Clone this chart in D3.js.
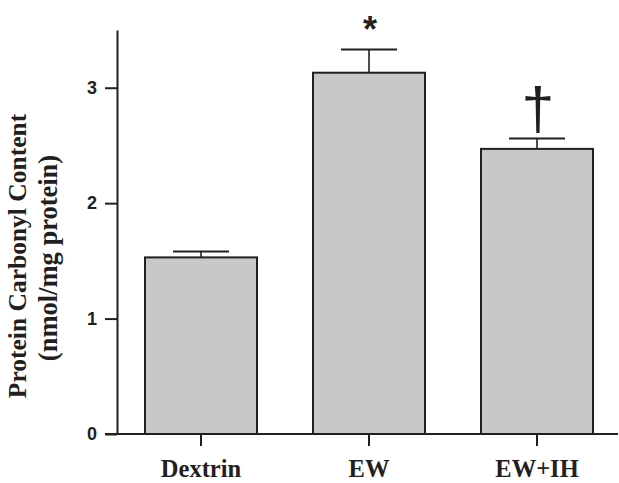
<!DOCTYPE html>
<html>
<head>
<meta charset="utf-8">
<script src="https://cdn.jsdelivr.net/npm/d3@7"></script>
<style>
  body { margin: 0; background: #fff; }
  svg { display: block; }
</style>
</head>
<body>
<svg id="chart"></svg>
<script>
"use strict";

// data
var groups = ["Dextrin", "EW", "EW+IH"];
var means = [1.53, 3.13, 2.47];
var sems = [0.05, 0.20, 0.09];
var marks = ["", "*", "\u2020"];
var yTicks = [0, 1, 2, 3];

(function () {
    var width = 619, height = 483;
    var margin = { top: 30, right: 1, bottom: 49, left: 117 };
    var chartWidth = 504, chartHeight = 404;
    var ink = "#231f20";

    var svg = d3.select("#chart")
        .attr("width", width)
        .attr("height", height);

    var g = svg.append("g")
        .attr("transform", "translate(" + margin.left + "," + margin.top + ")");

    var xScale = d3.scaleBand()
        .domain(groups)
        .range([0, chartWidth])
        .paddingInner(1 / 3)
        .paddingOuter(1 / 6);

    var yScale = d3.scaleLinear()
        .domain([0, 3.5])
        .range([chartHeight, 0]);

    // bars
    g.selectAll("rect.bar")
        .data(groups)
        .enter()
        .append("rect")
        .attr("class", "bar")
        .attr("x", function (d) { return xScale(d); })
        .attr("y", function (d, i) { return yScale(means[i]); })
        .attr("width", xScale.bandwidth())
        .attr("height", function (d, i) { return chartHeight - yScale(means[i]); })
        .attr("fill", "#c7c8ca")
        .attr("stroke", ink)
        .attr("stroke-width", 2);

    // error bars (upper only)
    var capHalf = xScale.bandwidth() / 4;
    groups.forEach(function (d, i) {
        var cx = xScale(d) + xScale.bandwidth() / 2;
        g.append("line")
            .attr("x1", cx).attr("x2", cx)
            .attr("y1", yScale(means[i])).attr("y2", yScale(means[i] + sems[i]))
            .attr("stroke", ink).attr("stroke-width", 1.6);
        g.append("line")
            .attr("x1", cx - capHalf).attr("x2", cx + capHalf)
            .attr("y1", yScale(means[i] + sems[i])).attr("y2", yScale(means[i] + sems[i]))
            .attr("stroke", ink).attr("stroke-width", 2);
        if (marks[i] === "*") {
            g.append("text")
                .attr("x", cx + 1)
                .attr("y", yScale(means[i] + sems[i]) - 8)
                .attr("text-anchor", "middle")
                .style("font-family", "'Liberation Sans', Arial, sans-serif")
                .style("font-weight", "bold")
                .style("font-size", "36px")
                .attr("fill", ink)
                .text(marks[i]);
        } else if (marks[i]) {
            g.append("text")
                .attr("x", cx + 1)
                .attr("y", yScale(means[i] + sems[i]) - 10)
                .attr("text-anchor", "middle")
                .style("font-family", "'Liberation Sans', Arial, sans-serif")
                .style("font-size", "59px")
                .attr("fill", ink)
                .text(marks[i]);
        }
    });

    // y axis
    var yAxis = d3.axisLeft(yScale)
        .tickValues(yTicks)
        .tickFormat(d3.format("d"))
        .tickSize(12)
        .tickSizeOuter(0)
        .tickPadding(8);

    var yG = g.append("g").call(yAxis);
    yG.select(".domain").attr("stroke", ink).attr("stroke-width", 2);
    yG.selectAll(".tick line").attr("stroke", ink).attr("stroke-width", 2);
    yG.selectAll(".tick text")
        .style("font-family", "'Liberation Sans', Arial, sans-serif")
        .style("font-weight", "bold")
        .style("font-size", "18px")
        .attr("fill", ink);

    // x axis
    var xAxis = d3.axisBottom(xScale)
        .tickSize(12)
        .tickSizeOuter(0)
        .tickPadding(14);

    var xG = g.append("g")
        .attr("transform", "translate(0," + chartHeight + ")")
        .call(xAxis);
    xG.select(".domain").remove();
    xG.append("line")
        .attr("x1", -12).attr("x2", chartWidth - 3)
        .attr("y1", 0).attr("y2", 0)
        .attr("stroke", ink).attr("stroke-width", 2);
    xG.selectAll(".tick line").attr("stroke", ink).attr("stroke-width", 2);
    xG.selectAll(".tick text")
        .style("font-family", "'Liberation Serif', 'Times New Roman', serif")
        .style("font-weight", "bold")
        .style("font-size", "24.5px")
        .attr("fill", ink);

    // y label
    var yLabel = svg.append("text")
        .attr("transform", "rotate(-90)")
        .attr("text-anchor", "middle")
        .style("font-family", "'Liberation Serif', 'Times New Roman', serif")
        .style("font-weight", "bold")
        .attr("fill", ink);
    yLabel.append("tspan")
        .attr("x", -256).attr("y", 26)
        .style("font-size", "25.5px")
        .text("Protein Carbonyl Content");
    yLabel.append("tspan")
        .attr("x", -258).attr("y", 57)
        .style("font-size", "26.5px")
        .text("(nmol/mg protein)");
})();
</script>
</body>
</html>
